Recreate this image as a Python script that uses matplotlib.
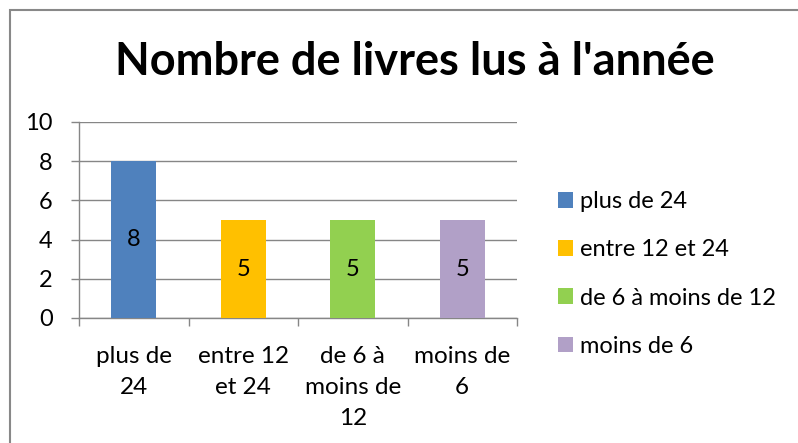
import matplotlib.pyplot as plt
from matplotlib.patches import Patch, Rectangle

categories = ["plus de 24", "entre 12 et 24", "de 6 à moins de 12", "moins de 6"]
tick_labels = ["plus de\n24", "entre 12\net 24", "de 6 à\nmoins de\n12", "moins de\n6"]
values = [8, 5, 5, 5]
colors = ["#4F81BD", "#FFC000", "#92D050", "#B1A0C7"]

plt.rcParams["font.family"] = ["Lato", "DejaVu Sans"]
grid_col = "#868686"
fs = 17

fig = plt.figure(figsize=(7.98, 4.43), dpi=100)
ax = fig.add_axes([79 / 798, 1 - 318 / 443, (517 - 79) / 798, (318 - 122) / 443])

x = list(range(len(values)))
bars = ax.bar(x, values, width=0.41, color=colors, zorder=3)
for xi, v in zip(x, values):
    ax.text(xi, v / 2, str(v), ha="center", va="center", fontsize=fs, zorder=4)

ax.set_xlim(-0.5, 3.5)
ax.set_ylim(0, 10)
ax.set_yticks([0, 2, 4, 6, 8, 10])
ax.tick_params(axis="y", length=6, width=1, color=grid_col, pad=13, labelsize=fs)
ax.yaxis.grid(True, color=grid_col, linewidth=1, zorder=0)

ax.set_xticks(x)
ax.set_xticklabels(tick_labels, fontsize=fs + 0.5, linespacing=1.6)
ax.tick_params(axis="x", which="major", length=0, pad=20)
ax.set_xticks([-0.5, 0.5, 1.5, 2.5, 3.5], minor=True)
ax.tick_params(axis="x", which="minor", length=6, width=1, color=grid_col, direction="out")

for s in ["top", "right"]:
    ax.spines[s].set_visible(False)
for s in ["left", "bottom"]:
    ax.spines[s].set_color(grid_col)
    ax.spines[s].set_linewidth(1)

fig.text(0.52, 1 - 62 / 443, "Nombre de livres lus à l'année", ha="center", va="center",
         fontsize=32.5, fontweight="bold")

handles = [Patch(facecolor=c, edgecolor="none") for c in colors]
fig.legend(handles, categories, loc="center left", bbox_to_anchor=(558 / 798, 1 - 274 / 443),
           frameon=False, fontsize=fs, handlelength=0.65, handleheight=0.65,
           handletextpad=0.3, labelspacing=1.15, borderpad=0, borderaxespad=0)

fig.add_artist(Rectangle((10 / 798, -0.1), 1.2, 1.1 - 10 / 443, transform=fig.transFigure,
                         fill=False, edgecolor="#888888", linewidth=1.5))

fig.savefig("out.png", dpi=100)
